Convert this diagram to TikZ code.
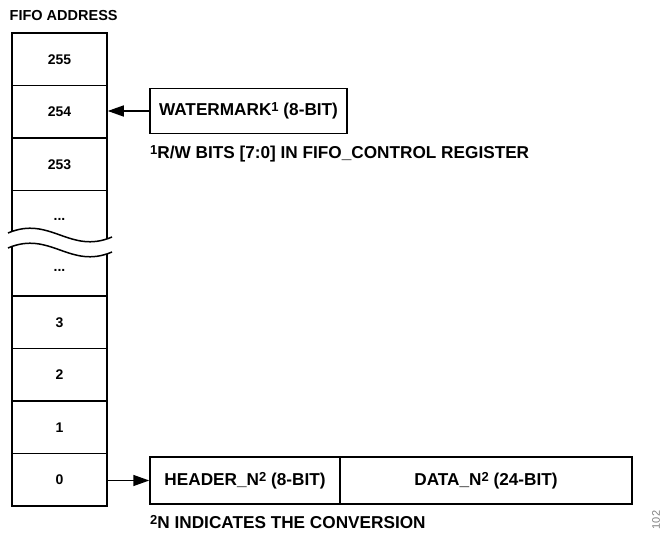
\documentclass[tikz,border=0pt]{standalone}
\usepackage{fontspec}
\setmainfont{Liberation Sans}
\usetikzlibrary{arrows.meta}
\newcommand\mysup[1]{\raisebox{4pt}{\fontsize{13}{13}\selectfont\bfseries #1}}
\begin{document}
\begin{tikzpicture}[x=1pt,y=-1pt,
  cell/.style={draw=black,line width=1.5pt,minimum width=95pt,minimum height=52.5pt,inner sep=0pt,font=\bfseries\fontsize{14}{16}\selectfont},
  regbox/.style={draw=black,line width=1.5pt,inner sep=0pt,font=\bfseries\fontsize{17.2}{20}\selectfont},
  note/.style={anchor=west,inner sep=0pt,font=\bfseries\fontsize{17.2}{20}\selectfont},
  ptr/.style={line width=1.5pt,-{Triangle[length=16pt,width=11pt]}},
  brk/.style={line width=1.5pt}]
\useasboundingbox (0,0) rectangle (661,534);
\node[anchor=west,inner sep=0pt,font=\bfseries\fontsize{14.5}{17}\selectfont] (title) at (9.5,15.5) {FIFO ADDRESS};
% upper cells
\node[cell] (r255) at (59.5,59.25) {255};
\node[cell] (r254) at (59.5,111.75) {254};
\node[cell] (r253) at (59.5,164.25) {253};
% lower cells
\node[cell] (r3) at (59.5,322.25) {3};
\node[cell] (r2) at (59.5,374.75) {2};
\node[cell] (r1) at (59.5,427.25) {1};
\node[cell] (r0) at (59.5,479.75) {0};
% broken cells
\draw[brk] (12,190.5) -- (12,245) (107,190.5) -- (107,245);
\draw[brk] (12,245) -- (12,296) (107,245) -- (107,296);
\fill[white] (8,233) .. controls (50,215) and (70,255) .. (112,237) -- (112,252) .. controls (70,270) and (50,230) .. (8,248) -- cycle;
\draw[brk] (8,233) .. controls (50,215) and (70,255) .. (112,237);
\draw[brk] (8,248) .. controls (50,230) and (70,270) .. (112,252);
\node[font=\bfseries\fontsize{14}{16}\selectfont,inner sep=0pt] (dotsA) at (59.5,219) {...};
\node[font=\bfseries\fontsize{14}{16}\selectfont,inner sep=0pt] (dotsB) at (59.5,270) {...};
% watermark
\node[regbox,minimum width=197pt,minimum height=45pt] (wm) at (248.5,111) {WATERMARK\mysup{1} (8-BIT)};
\draw[ptr] (wm.west) -- (wm.west -| r254.east);
\node[note] (n1) at (150,153.5) {\mysup{1}R/W BITS [7:0] IN FIFO\_CONTROL REGISTER};
% header/data
\node[regbox,minimum width=190pt,minimum height=47pt] (hdr) at (245,480.5) {HEADER\_N\mysup{2} (8-BIT)};
\node[regbox,minimum width=292pt,minimum height=47pt] (dat) at (486,480.5) {DATA\_N\mysup{2} (24-BIT)};
\draw[ptr] (r0.east |- hdr.west) -- (hdr.west);
\node[note] (n2) at (150,522) {\mysup{2}N INDICATES THE CONVERSION};
\node[rotate=90,inner sep=0pt,text=gray,font=\fontsize{11}{12}\selectfont] (fig) at (656,520) {102};
\end{tikzpicture}
\end{document}
